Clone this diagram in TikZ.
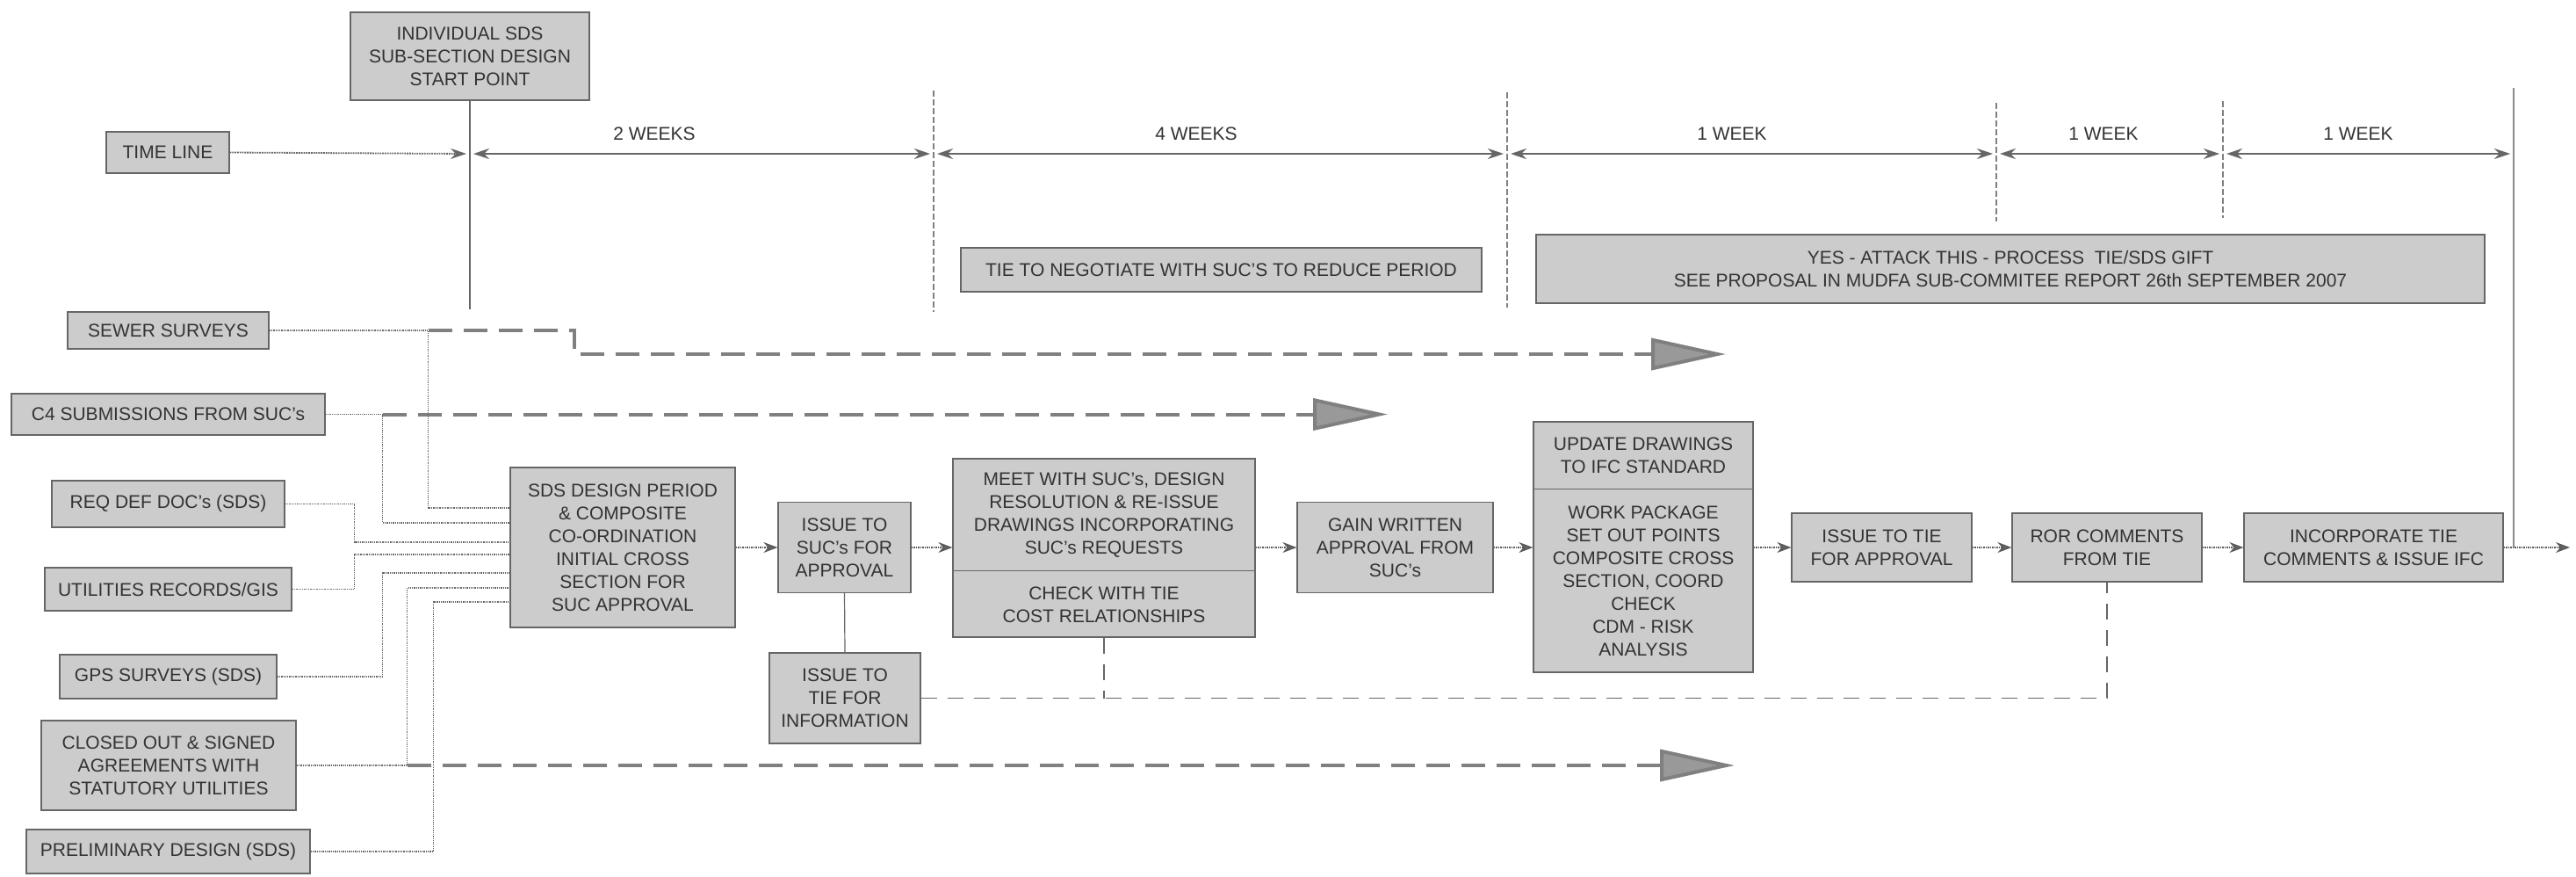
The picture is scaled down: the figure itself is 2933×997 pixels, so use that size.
\documentclass[tikz,border=0pt]{standalone}
\usepackage{fontspec}
\setmainfont{Liberation Sans}
\usetikzlibrary{arrows.meta,calc}
\begin{document}
\begin{tikzpicture}[x=1pt,y=-1pt,
  box/.style={draw=black!60, line width=1.2pt, fill=black!20, text=black!80, align=center, inner sep=0pt, font=\fontsize{21}{26}\selectfont},
  txt/.style={text=black!80, align=center, inner sep=0pt, font=\fontsize{21}{26}\selectfont},
  conn/.style={draw=black!60, line width=1.3pt, densely dotted},
  solidconn/.style={draw=black!60, line width=1.2pt},
  mainarrow/.style={draw=black!65, line width=1.5pt, densely dotted, -{Stealth[length=16pt,width=12pt,fill=black!60]}},
  tline/.style={draw=black!60, line width=1.8pt},
  tick/.style={draw=black!50, line width=1.2pt, dash pattern=on 7pt off 3pt},
  bigdash/.style={draw=black!50, line width=4pt, dash pattern=on 27pt off 13pt, -{Triangle[length=85pt,width=36pt,fill=black!40]}},
  dashconn/.style={draw=black!60, line width=1.3pt, dash pattern=on 18pt off 12pt}
]
\useasboundingbox[fill=white] (0,0) rectangle (2933,997);

% top
\node[box, minimum width=272pt, minimum height=100pt] (indiv) at (535,64) {INDIVIDUAL SDS\\SUB-SECTION DESIGN\\START POINT};
\node[box, minimum width=140pt, minimum height=47pt] (tl) at (191,173.5) {TIME LINE};

\coordinate (t0) at (535,175);
\coordinate (t1) at (1063,175);
\coordinate (t2) at (1716,175);
\coordinate (t3) at (2273,175);
\coordinate (t4) at (2531,175);
\coordinate (t5) at (2862,175);
\coordinate (v0bot) at (535,352);
\coordinate (v1top) at (1063,103);
\coordinate (v1bot) at (1063,355);
\coordinate (v2top) at (1716,105);
\coordinate (v2bot) at (1716,350);
\coordinate (v3top) at (2273,117);
\coordinate (v3bot) at (2273,252);
\coordinate (v4top) at (2531,115);
\coordinate (v4bot) at (2531,248);
\coordinate (v5top) at (2862,100);
\coordinate (v5bot) at (2862,623);
\coordinate (outend) at (2926,623);

\draw[solidconn] (indiv.south) -- (v0bot);
\draw[tick] (v1top) -- (v1bot);
\draw[tick] (v2top) -- (v2bot);
\draw[tick] (v3top) -- (v3bot);
\draw[tick] (v4top) -- (v4bot);
\draw[solidconn, draw=black!45] (v5top) -- (v5bot);

\draw[tline, densely dotted, -{Stealth[length=18pt,width=12pt,fill=black!60]}, shorten >=4pt] (tl.east) -- (t0);
\draw[tline, {Stealth[length=18pt,width=12pt,fill=black!60]}-{Stealth[length=18pt,width=12pt,fill=black!60]}, shorten <=4pt, shorten >=4pt] (t0) -- (t1);
\draw[tline, {Stealth[length=18pt,width=12pt,fill=black!60]}-{Stealth[length=18pt,width=12pt,fill=black!60]}, shorten <=4pt, shorten >=4pt] (t1) -- (t2);
\draw[tline, {Stealth[length=18pt,width=12pt,fill=black!60]}-{Stealth[length=18pt,width=12pt,fill=black!60]}, shorten <=4pt, shorten >=4pt] (t2) -- (t3);
\draw[tline, {Stealth[length=18pt,width=12pt,fill=black!60]}-{Stealth[length=18pt,width=12pt,fill=black!60]}, shorten <=4pt, shorten >=4pt] (t3) -- (t4);
\draw[tline, {Stealth[length=18pt,width=12pt,fill=black!60]}-{Stealth[length=18pt,width=12pt,fill=black!60]}, shorten <=4pt, shorten >=4pt] (t4) -- (t5);

\node[txt] (w2) at (745,152) {2 WEEKS};
\node[txt] (w4) at (1362,152) {4 WEEKS};
\node[txt] (w1a) at (1972,152) {1 WEEK};
\node[txt] (w1b) at (2395,152) {1 WEEK};
\node[txt] (w1c) at (2685,152) {1 WEEK};

\node[box, minimum width=593pt, minimum height=50pt] (tie) at (1390.5,307) {TIE TO NEGOTIATE WITH SUC'S TO REDUCE PERIOD};
\node[box, minimum width=1080pt, minimum height=78pt] (yes) at (2289,306) {YES - ATTACK THIS - PROCESS\ \ TIE/SDS GIFT\\SEE PROPOSAL IN MUDFA SUB-COMMITEE REPORT 26th SEPTEMBER 2007};

% left column
\node[box, minimum width=229pt, minimum height=42pt] (sewer) at (191.5,376) {SEWER SURVEYS};
\node[box, minimum width=357pt, minimum height=47pt] (c4) at (191.5,471.5) {C4 SUBMISSIONS FROM SUC's};
\node[box, minimum width=265pt, minimum height=53pt] (req) at (191.5,573.5) {REQ DEF DOC's (SDS)};
\node[box, minimum width=281pt, minimum height=49pt] (util) at (191.5,670.5) {UTILITIES RECORDS/GIS};
\node[box, minimum width=247pt, minimum height=50pt] (gps) at (191.5,770) {GPS SURVEYS (SDS)};
\node[box, minimum width=290pt, minimum height=102pt] (closed) at (192,871) {CLOSED OUT \& SIGNED\\AGREEMENTS WITH\\STATUTORY UTILITIES};
\node[box, minimum width=323pt, minimum height=50pt] (prelim) at (191.5,969) {PRELIMINARY DESIGN (SDS)};

% main row
\node[box, minimum width=256pt, minimum height=182pt] (sds) at (709,623) {SDS DESIGN PERIOD\\\& COMPOSITE\\CO-ORDINATION\\INITIAL CROSS\\SECTION FOR\\SUC APPROVAL};
\node[box, minimum width=151pt, minimum height=103pt] (issuesuc) at (961.5,623) {ISSUE TO\\SUC's FOR\\APPROVAL};
\node[box, minimum width=344pt, minimum height=203pt] (meet) at (1257,623.5) {};
\node[txt] (meettop) at (1257,586) {MEET WITH SUC's, DESIGN\\RESOLUTION \& RE-ISSUE\\DRAWINGS INCORPORATING\\SUC's REQUESTS};
\node[txt] (meetbot) at (1257,688) {CHECK WITH TIE\\COST RELATIONSHIPS};
\draw[solidconn] ($(meet.north west)+(0,128)$) -- ($(meet.north east)+(0,128)$);
\node[box, minimum width=223pt, minimum height=103pt] (gain) at (1588.5,623) {GAIN WRITTEN\\APPROVAL FROM\\SUC's};
\node[box, minimum width=250pt, minimum height=285pt] (update) at (1871,622.5) {};
\node[txt] (updtop) at (1871,518.5) {UPDATE DRAWINGS\\TO IFC STANDARD};
\node[txt] (updbot) at (1871,661) {WORK PACKAGE\\SET OUT POINTS\\COMPOSITE CROSS\\SECTION, COORD\\CHECK\\CDM - RISK\\ANALYSIS};
\draw[solidconn] ($(update.north west)+(0,77)$) -- ($(update.north east)+(0,77)$);
\node[box, minimum width=205pt, minimum height=78pt] (issuetie) at (2142.5,623) {ISSUE TO TIE\\FOR APPROVAL};
\node[box, minimum width=216pt, minimum height=78pt] (ror) at (2399,623) {ROR COMMENTS\\FROM TIE};
\node[box, minimum width=295pt, minimum height=78pt] (incorp) at (2702.5,623) {INCORPORATE TIE\\COMMENTS \& ISSUE IFC};
\node[box, minimum width=172pt, minimum height=103pt] (info) at (962,794.5) {ISSUE TO\\TIE FOR\\INFORMATION};

% main row arrows
\draw[mainarrow] (sds.east) -- (issuesuc.west);
\draw[mainarrow] (issuesuc.east) -- (meet.west |- issuesuc.east);
\draw[mainarrow] (meet.east |- gain.west) -- (gain.west);
\draw[mainarrow] (gain.east) -- (update.west |- gain.east);
\draw[mainarrow] (update.east |- issuetie.west) -- (issuetie.west);
\draw[mainarrow] (issuetie.east) -- (ror.west);
\draw[mainarrow] (ror.east) -- (incorp.west);
\draw[mainarrow] (incorp.east) -- (outend);

\draw[solidconn] (issuesuc.south) -- (info.north);
\draw[dashconn] (info.east) -| (ror.south);
\draw[dashconn] (meet.south) -- (meet.south |- info.east);

% inputs to SDS box
\coordinate (sewin) at (581,578);
\coordinate (c4in) at (581,595);
\coordinate (reqin) at (581,617);
\coordinate (utilin) at (581,631);
\coordinate (gpsin) at (581,652);
\coordinate (closedin) at (581,669);
\coordinate (prelimin) at (581,685);
\coordinate (sewtip) at (1965,403);
\coordinate (c4tip) at (1580,471.5);
\coordinate (closedtip) at (1975,871);

\draw[bigdash] ($(sewer.east)+(181,0)$) -- ++(166,0) |- (sewtip);
\draw[bigdash] ($(c4.east)+(65,0)$) -- (c4tip);
\draw[bigdash] ($(closed.east)+(126,0)$) -- (closedtip);

\draw[conn] (sewer.east) -- ++(181,0) |- (sewin);
\draw[conn] (c4.east) -- ++(65,0) |- (c4in);
\draw[conn] (req.east) -- ++(79,0) |- (reqin);
\draw[conn] (util.east) -- ++(71,0) |- (utilin);
\draw[conn] (gps.east) -- ++(120,0) |- (gpsin);
\draw[conn] (closed.east) -- ++(126,0) |- (closedin);
\draw[conn] (prelim.east) -- ++(140,0) |- (prelimin);
\end{tikzpicture}
\end{document}
